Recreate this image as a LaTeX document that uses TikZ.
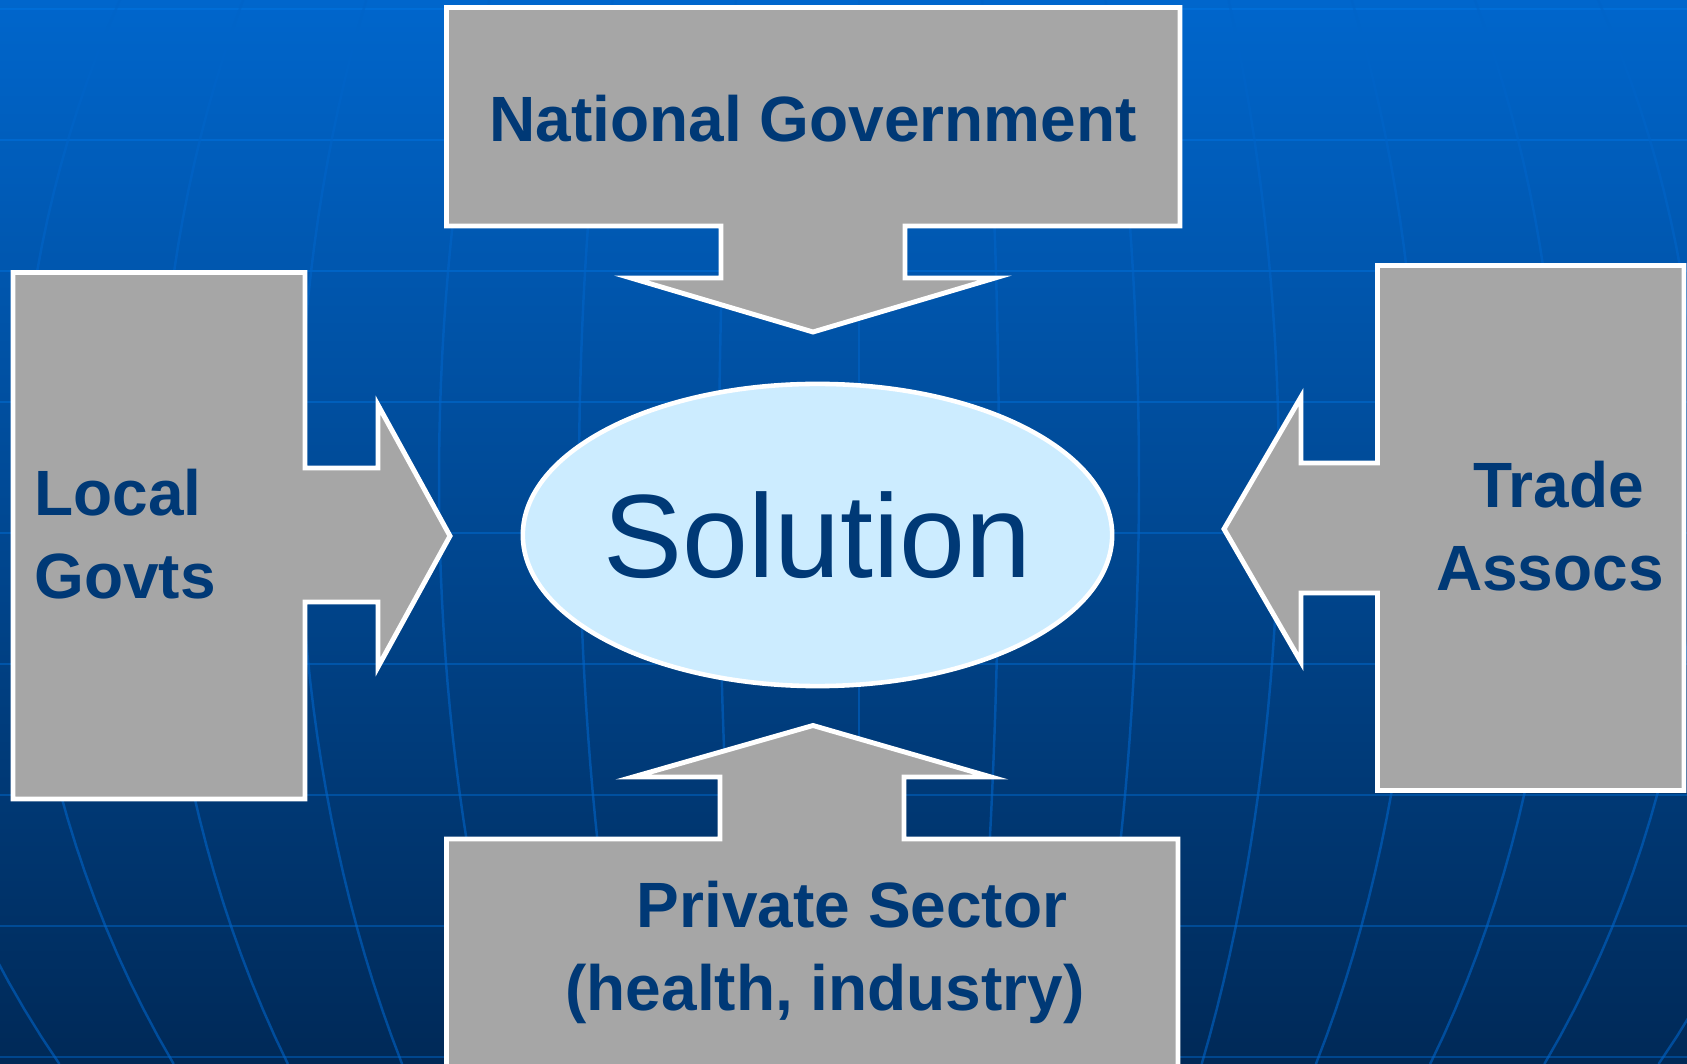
\documentclass[tikz,border=0pt]{standalone}
\usepackage{fontspec}
\setmainfont{Liberation Sans}
\usepackage{tikz}
\usetikzlibrary{shapes.geometric}
\definecolor{navy}{RGB}{0,57,118}
\definecolor{slidetop}{RGB}{0,102,204}
\definecolor{slidebottom}{RGB}{0,41,87}
\definecolor{gridblue}{RGB}{0,125,240}
\definecolor{meridian}{RGB}{0,100,200}
\definecolor{boxgrey}{RGB}{166,166,166}
\definecolor{paleblue}{RGB}{204,236,255}
\tikzstyle{callout}=[draw=white,fill=boxgrey,line width=1.4pt,line join=miter]
\tikzstyle{boxtext}=[text=navy,font=\fontsize{18.2}{23.6}\selectfont\bfseries,inner sep=0pt]

\begin{document}
\begin{tikzpicture}[x=0.01cm,y=-0.01cm]
\tikzstyle{gridline}=[gridblue,opacity=0.35,line width=0.8pt]
\tikzstyle{meridianline}=[meridian,opacity=0.6,line width=0.7pt]
  \useasboundingbox (0,0) rectangle (1687,1064);
  \begin{scope}
    \clip (0,0) rectangle (1687,1064);
    \shade[top color=slidetop,bottom color=slidebottom] (0,0) rectangle (1687,1064);
    \foreach \y in {9,140,...,1057}
      \draw[gridline] (0,\y) -- (1687,\y);
    \foreach \k in {-7,...,7}
      \draw[meridianline] plot[domain=0:1064,samples=40,variable=\t]
        ({859+140*\k*sqrt(1-((\t-480)/1010)^2)},\t);
  \end{scope}
  \draw[callout] (446.5,7.5) -- (1180,7.5) -- (1180,226) -- (905,226) -- (905,278)
    -- (995,278) -- (813,332) -- (631,278) -- (721,278) -- (721,226) -- (446.5,226) -- cycle;
  \draw[callout] (13,272.5) -- (305,272.5) -- (305,468) -- (378,468) -- (378,405)
    -- (450,536) -- (378,667) -- (378,602) -- (305,602) -- (305,799) -- (13,799) -- cycle;
  \draw[callout] (1684,265.5) -- (1377.5,265.5) -- (1377.5,463) -- (1301,463) -- (1301,397)
    -- (1224,529) -- (1301,662) -- (1301,593) -- (1377.5,593) -- (1377.5,790.5) -- (1684,790.5) -- cycle;
  \draw[callout] (446.5,1075) -- (446.5,839) -- (720,839) -- (720,777) -- (633,777)
    -- (813,725.5) -- (991,777) -- (904,777) -- (904,839) -- (1178,839) -- (1178,1075);
  \node[ellipse,draw=white,line width=1.3pt,fill=paleblue,minimum width=5.89cm,
    minimum height=3.02cm,inner xsep=-15pt,inner ysep=0pt,text=navy,
    font=\fontsize{33.7}{40}\selectfont] (solution) at (817.5,535) {Solution};
  \node[boxtext,anchor=base] (natgov) at (813,141.7) {National Government};
  \node[boxtext,anchor=west,align=left] (localgov) at (33.6,534.5) {Local\\Govts};
  \node[boxtext,align=center] (trade) at (1550,526) {\hspace*{4.8pt}Trade\\Assocs};
  \node[boxtext,align=center] (private) at (825,952) {\hspace*{15.4pt}Private Sector\\(health, industry)};
\end{tikzpicture}
\end{document}
